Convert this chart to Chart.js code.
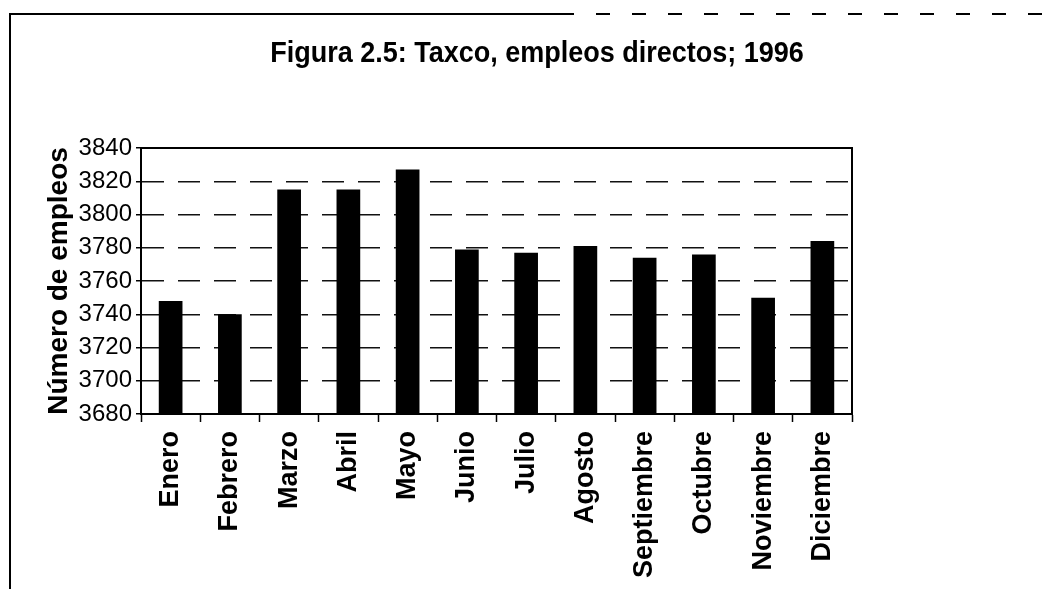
<!DOCTYPE html>
<html>
<head>
<meta charset="utf-8">
<script src="https://cdn.jsdelivr.net/npm/chart.js@4.4.1/dist/chart.umd.min.js"></script>
<style>
  html, body { margin: 0; padding: 0; background: #fff; }
  #wrap { width: 1048px; height: 589px; }
</style>
</head>
<body>
<div id="wrap"><canvas id="c" width="1048" height="589"></canvas></div>
<script>
(function () {
    'use strict';

    var titulo = 'Figura 2.5: Taxco, empleos directos; 1996';
    var ejeY = 'Número de empleos';
    var meses = ['Enero', 'Febrero', 'Marzo', 'Abril', 'Mayo', 'Junio', 'Julio',
        'Agosto', 'Septiembre', 'Octubre', 'Noviembre', 'Diciembre'];
    var empleos = [3748, 3740, 3815, 3815, 3827, 3779, 3777, 3781, 3774, 3776, 3750, 3784];
    var yMin = 3680, yMax = 3840, yPaso = 20;

    var FONT = "'Liberation Sans', Arial, sans-serif";

    // white page, plot box, outer scan frame and the condensed title
    var marco = {
        id: 'marco',
        beforeDraw: function (chart) {
            var ctx = chart.ctx;
            ctx.save();
            ctx.fillStyle = '#fff';
            ctx.fillRect(0, 0, chart.width, chart.height);
            ctx.restore();
        },
        afterDraw: function (chart) {
            var ctx = chart.ctx, a = chart.chartArea;
            ctx.save();
            ctx.strokeStyle = '#000';
            ctx.lineWidth = 2;
            ctx.setLineDash([]);
            ctx.strokeRect(a.left, a.top, a.right - a.left, a.bottom - a.top);

            // outer frame (left edge + top edge of the scanned page)
            ctx.beginPath();
            ctx.moveTo(10, chart.height);
            ctx.lineTo(10, 14);
            ctx.lineTo(560, 14);
            ctx.stroke();
            ctx.setLineDash([14, 22]);
            ctx.beginPath();
            ctx.moveTo(560, 14);
            ctx.lineTo(chart.width, 14);
            ctx.stroke();
            ctx.setLineDash([]);

            ctx.fillStyle = '#000';
            ctx.font = 'bold 30px ' + FONT;
            ctx.textAlign = 'center';
            ctx.textBaseline = 'alphabetic';
            ctx.translate(537, 62);
            ctx.scale(0.9, 1);
            ctx.fillText(titulo, 0, 0);
            ctx.restore();
        }
    };

    new Chart(document.getElementById('c'), {
        type: 'bar',
        data: {
            labels: meses,
            datasets: [{
                data: empleos,
                backgroundColor: '#000',
                borderWidth: 0,
                barPercentage: 0.4,
                categoryPercentage: 1
            }]
        },
        options: {
            responsive: false,
            animation: false,
            events: [],
            layout: { padding: { top: 148, left: 42, right: 196, bottom: 0 } },
            plugins: {
                legend: { display: false },
                tooltip: { enabled: false },
                title: { display: false }
            },
            scales: {
                x: {
                    offset: true,
                    border: { display: true, color: '#000', width: 2 },
                    grid: {
                        offset: true,
                        drawOnChartArea: false,
                        drawTicks: true,
                        tickLength: 8,
                        tickColor: '#000',
                        tickWidth: 1.5
                    },
                    ticks: {
                        autoSkip: false,
                        maxRotation: 90,
                        minRotation: 90,
                        padding: 9,
                        color: '#000',
                        font: { family: FONT, size: 27, weight: 'bold' }
                    },
                    afterFit: function (s) { s.height = 175; }
                },
                y: {
                    min: yMin,
                    max: yMax,
                    border: { display: true, color: '#000', width: 2, dash: [22, 14] },
                    grid: {
                        color: function (c) {
                            var v = c.tick && c.tick.value;
                            return (v === yMin || v === yMax) ? 'rgba(0,0,0,0)' : '#111';
                        },
                        lineWidth: 1.5,
                        tickColor: '#000',
                        tickLength: 5,
                        tickWidth: 1.5
                    },
                    ticks: {
                        stepSize: yPaso,
                        padding: 4,
                        color: '#000',
                        font: { family: FONT, size: 24 },
                        callback: function (v) { return String(v); }
                    },
                    title: {
                        display: true,
                        text: ejeY,
                        color: '#000',
                        padding: 0,
                        font: { family: FONT, size: 28, weight: 'bold' }
                    },
                    afterFit: function (s) { s.width = 99; }
                }
            }
        },
        plugins: [marco]
    });
})();
</script>
</body>
</html>
